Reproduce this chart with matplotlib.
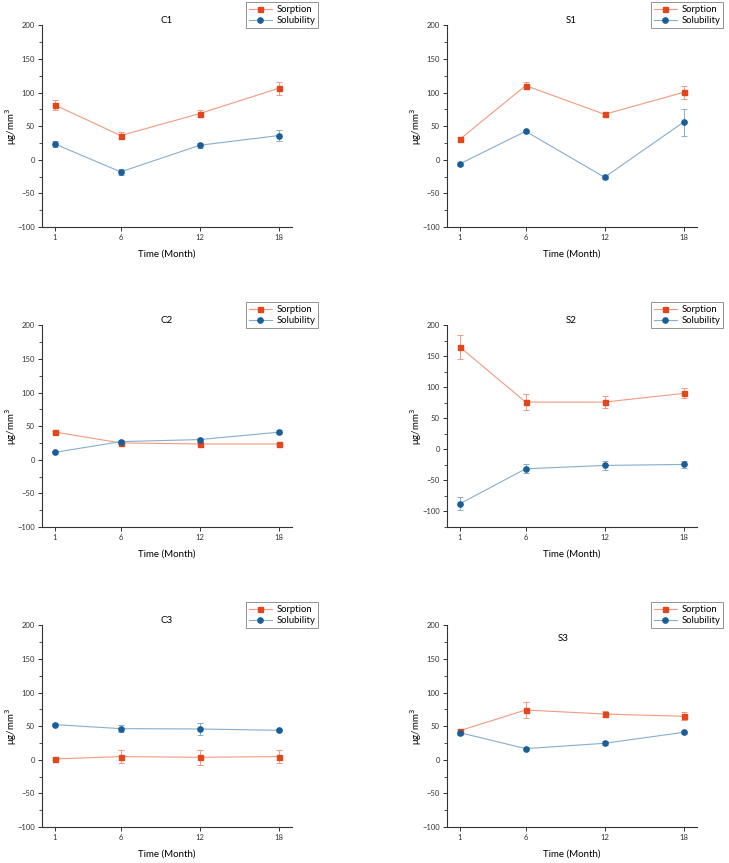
import numpy as np
import matplotlib
matplotlib.use("Agg")
import matplotlib.pyplot as plt
from matplotlib.ticker import MultipleLocator
from matplotlib.lines import Line2D

plt.rcParams['font.family'] = ['Lato', 'DejaVu Sans']

months = [1, 6, 12, 18]
panels = ['C1', 'S1', 'C2', 'S2', 'C3', 'S3']

# sorption / solubility means and error bars, per panel
sorp = {
    'C1': [81.5, 36, 68.6, 106.3],
    'S1': [30.4, 110.3, 67.6, 100.3],
    'C2': [41.3, 25, 23.5, 23.5],
    'S2': [165, 76.3, 76.3, 90.3],
    'C3': [1.2, 4.7, 3.7, 4.7],
    'S3': [43.3, 74, 68, 64.7],
}
sorp_err = {
    'C1': [7.5, 5.5, 5.5, 9.5],
    'S1': [3, 5, 2, 10],
    'C2': [2, 2, 2, 2],
    'S2': [19, 12.6, 9, 8],
    'C3': [2, 10, 11.5, 10],
    'S3': [3, 12, 4, 6],
}
solu = {
    'C1': [23.5, -18, 21.5, 36],
    'S1': [-6, 42.3, -26, 56],
    'C2': [11, 27, 30, 41],
    'S2': [-87.6, -31.2, -25.8, -24.2],
    'C3': [52.3, 46.3, 45.8, 43.8],
    'S3': [40.3, 16.6, 24.5, 40.8],
}
solu_err = {
    'C1': [4, 5, 4, 8],
    'S1': [3, 2, 3, 20],
    'C2': [2, 3, 3, 3],
    'S2': [10.5, 7, 7, 5],
    'C3': [2, 5, 9, 2],
    'S3': [3, 2, 3, 2],
}
y_bottom = {'C1': -100, 'S1': -100, 'C2': -100, 'S2': -125, 'C3': -100, 'S3': -100}
# panel title anchor (axes fraction)
title_xy = {'C1': (0.5, 1.0), 'S1': (0.5, 1.0), 'C2': (0.5, 1.0),
            'S2': (0.5, 1.0), 'C3': (0.5, 1.0), 'S3': (0.464, 0.912)}

W, H = 729, 863
fig = plt.figure(figsize=(W / 100, H / 100), dpi=100)

col_left = [41.7, 446.7]
row_bottom = [227, 527, 827]
ax_w, ax_h = 250, 201.7

sorp_mk, sorp_ln = '#E2461C', '#F29A80'
solu_mk, solu_ln = '#1B5E97', '#86AECF'
sorp_style = dict(color=sorp_ln, lw=0.8, marker='s', ms=3.6, mfc=sorp_mk, mec=sorp_mk)
solu_style = dict(color=solu_ln, lw=0.8, marker='o', ms=3.8, mfc=solu_mk, mec=solu_mk)

for i, name in enumerate(panels):
    r, c = divmod(i, 2)
    ax = fig.add_axes([col_left[c] / W, 1 - row_bottom[r] / H, ax_w / W, ax_h / H])

    ax.errorbar(months, sorp[name], yerr=sorp_err[name], capsize=2,
                elinewidth=0.7, capthick=0.7, **sorp_style)
    ax.errorbar(months, solu[name], yerr=solu_err[name], capsize=2,
                elinewidth=0.7, capthick=0.7, **solu_style)

    ax.set_xlim(0, 19)
    ax.set_ylim(y_bottom[name], 200)
    ax.set_xticks(months)
    ax.yaxis.set_major_locator(MultipleLocator(50))
    ax.yaxis.set_minor_locator(MultipleLocator(25))
    for s in ['top', 'right']:
        ax.spines[s].set_visible(False)
    for s in ['left', 'bottom']:
        ax.spines[s].set_color('#333333')
        ax.spines[s].set_linewidth(0.8)
    ax.tick_params(which='major', length=3, width=0.7, labelsize=5.5, colors='#333333', pad=2)
    ax.tick_params(which='minor', length=2, width=0.6, colors='#333333')

    ax.set_xlabel('Time (Month)', fontsize=7, labelpad=6)
    ax.set_ylabel(r'μg/mm$^3$', fontsize=7)
    ax.yaxis.set_label_coords(-0.09, 0.5)
    tx, ty = title_xy[name]
    ax.text(tx, ty, name, transform=ax.transAxes, ha='center', va='bottom', fontsize=7)

    handles = [Line2D([], [], **sorp_style), Line2D([], [], **solu_style)]
    leg = ax.legend(handles, ['Sorption', 'Solubility'], loc='upper right',
                    bbox_to_anchor=(1.105, 1.115), fontsize=6.8,
                    frameon=True, fancybox=False, borderpad=0.3, labelspacing=0.25,
                    handlelength=2.4, handletextpad=0.5, borderaxespad=0)
    leg.get_frame().set_edgecolor('#777777')
    leg.get_frame().set_linewidth(0.7)

fig.savefig('out.png', dpi=100)
